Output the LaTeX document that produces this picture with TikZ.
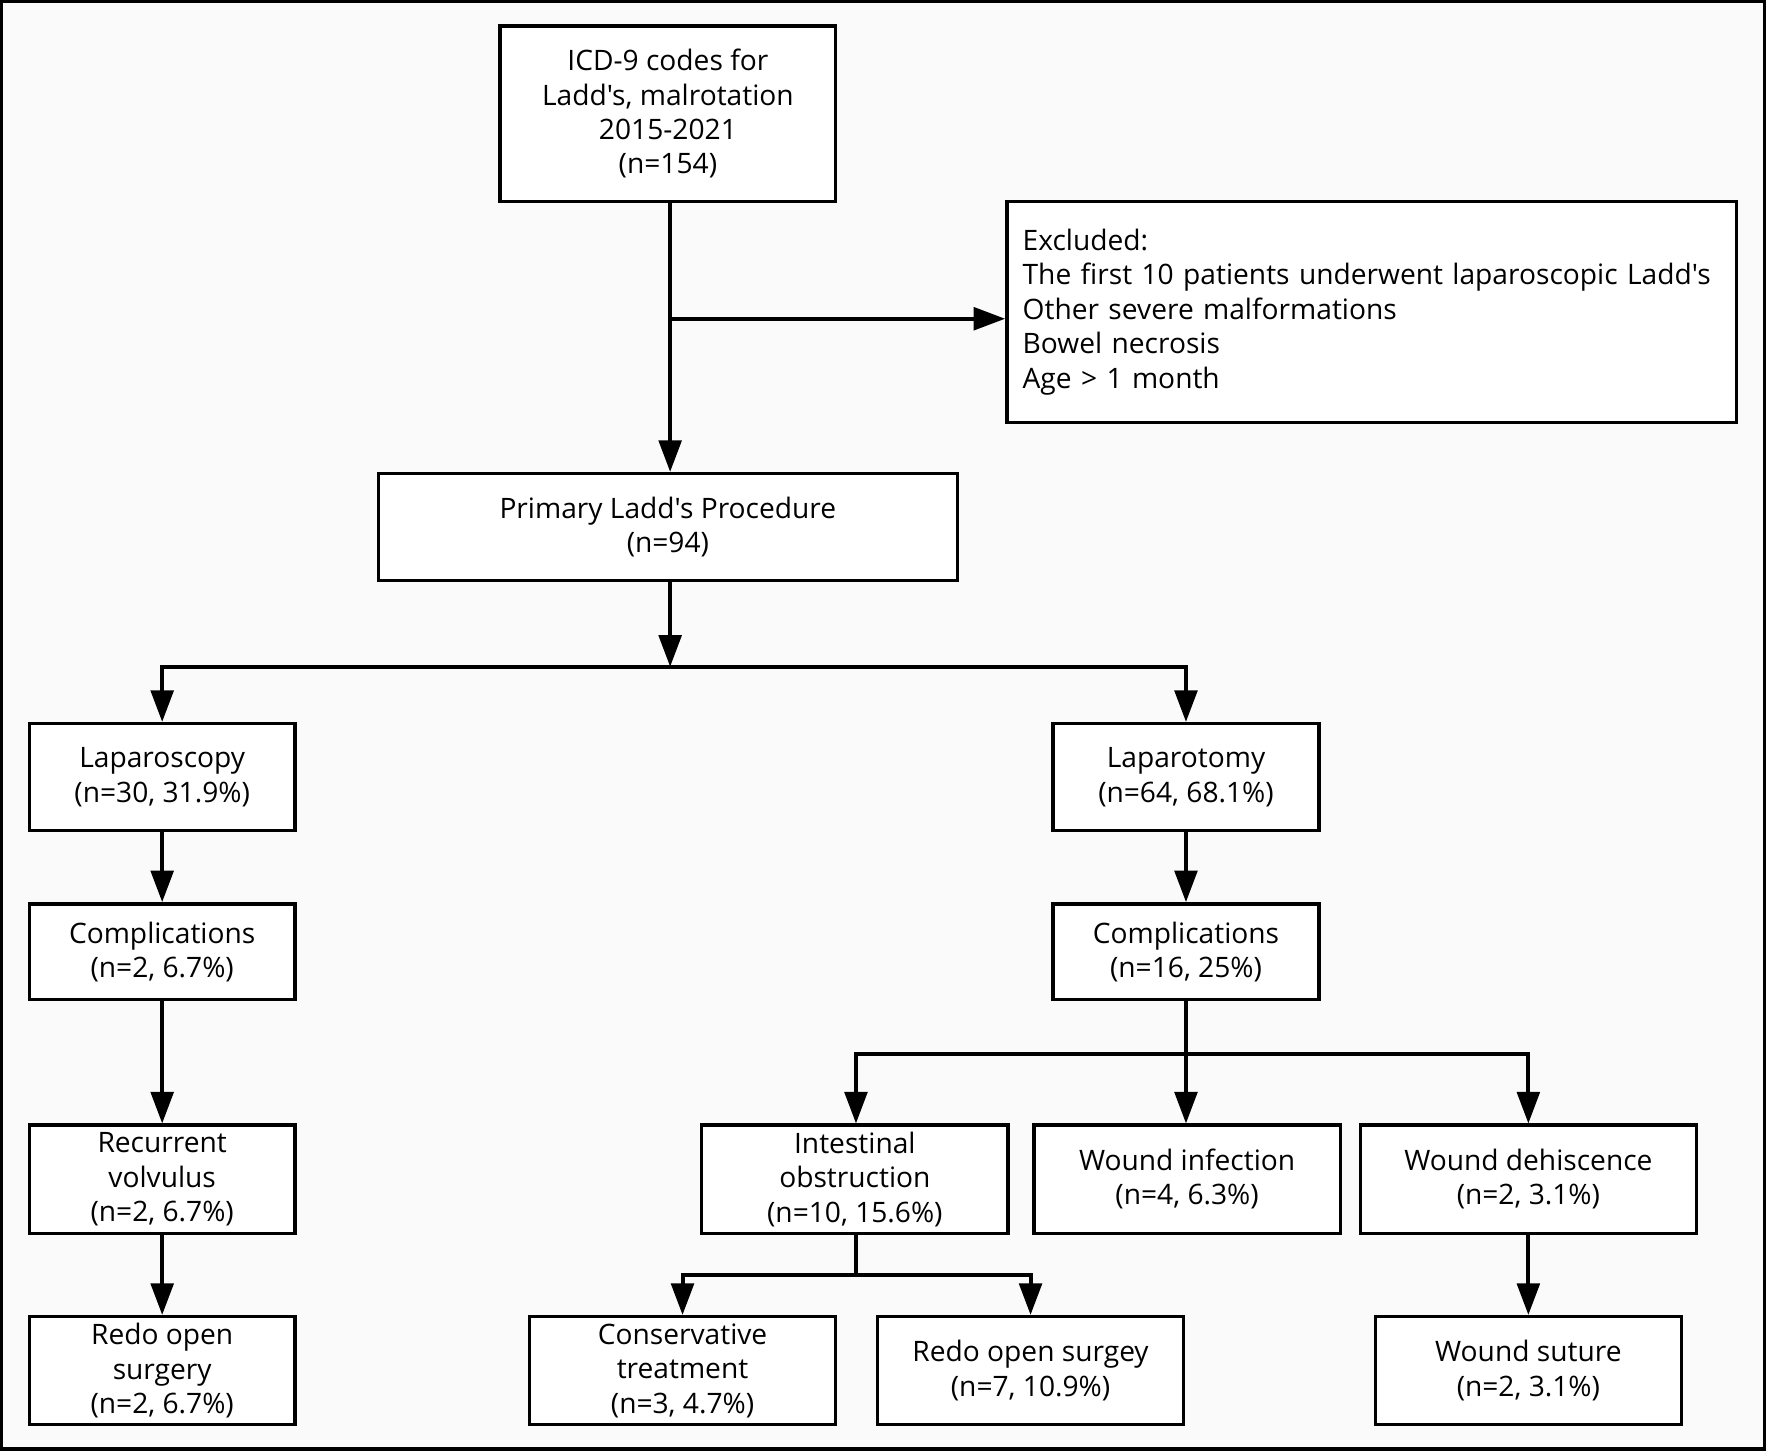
\documentclass[tikz,border=0pt]{standalone}
\usepackage{fontspec}
\setmainfont{Open Sans}[Ligatures=TeXOff]
\usetikzlibrary{arrows.meta}
\definecolor{bgc}{RGB}{250,250,250}
\begin{document}
\begin{tikzpicture}[x=1pt,y=-1pt,
  box/.style={draw, line width=3pt, fill=white, align=center, inner sep=2pt,
    font=\fontsize{25}{30.5}\selectfont},
  ln/.style={line width=3.5pt},
  arr/.style={ln, -{Triangle[length=28pt,width=20pt]}},
  arrb/.style={ln, {Triangle[length=28pt,width=20pt]}-{Triangle[length=28pt,width=20pt]}}]
\path[fill=bgc, draw=black, line width=3pt] (1.5,1.5) rectangle (1566.5,1286.5);
\useasboundingbox (0,0) rectangle (1568,1288);
% nodes
\node[box, minimum width=298pt, minimum height=156pt] (top) at (593,101)
  {ICD-9 codes for\\Ladd's, malrotation\\2015-2021\\(n=154)};
\node[box, minimum height=196pt, text width=620pt, inner xsep=14pt, align=left] (exc) at (1218,277)
  {Excluded:\\The first 10 patients underwent laparoscopic Ladd's\\Other severe malformations\\Bowel necrosis\\Age > 1 month};
\node[box, minimum width=514pt, minimum height=95pt] (prim) at (593,468)
  {Primary Ladd's Procedure\\(n=94)};
\node[box, minimum width=236pt, minimum height=95pt] (lap) at (144,690)
  {Laparoscopy\\(n=30, 31.9\%)};
\node[box, minimum width=236pt, minimum height=95pt] (lapt) at (1053,690)
  {Laparotomy\\(n=64, 68.1\%)};
\node[box, minimum width=236pt, minimum height=85pt] (compL) at (144,845)
  {Complications\\(n=2, 6.7\%)};
\node[box, minimum width=236pt, minimum height=85pt] (compR) at (1053,845)
  {Complications\\(n=16, 25\%)};
\node[box, minimum width=236pt, minimum height=96pt] (rec) at (144,1047)
  {Recurrent\\volvulus\\(n=2, 6.7\%)};
\node[box, minimum width=236pt, minimum height=96pt] (redoL) at (144,1217)
  {Redo open\\surgery\\(n=2, 6.7\%)};
\node[box, minimum width=272pt, minimum height=96pt] (int) at (759,1047)
  {Intestinal\\obstruction\\(n=10, 15.6\%)};
\node[box, minimum width=272pt, minimum height=96pt] (wi) at (1054,1047)
  {Wound infection\\(n=4, 6.3\%)};
\node[box, minimum width=298pt, minimum height=96pt] (wd) at (1357,1047)
  {Wound dehiscence\\(n=2, 3.1\%)};
\node[box, minimum width=272pt, minimum height=96pt] (cons) at (606,1217)
  {Conservative\\treatment\\(n=3, 4.7\%)};
\node[box, minimum width=272pt, minimum height=96pt] (redoR) at (915,1217)
  {Redo open surgey\\(n=7, 10.9\%)};
\node[box, minimum width=272pt, minimum height=96pt] (ws) at (1357,1217)
  {Wound suture\\(n=2, 3.1\%)};
% junctions
\coordinate (b1) at (595,283);
\coordinate (j1) at (595,592);
\coordinate (j2) at (1053,936);
\coordinate (j3) at (760,1132);
% connectors
\draw[arr] (top.south -| b1) -- (prim.north -| b1);
\draw[arr] (b1) -- (b1 -| exc.west);
\draw[arr] (prim.south -| j1) -- (j1);
\draw[arrb] (lap.north) |- (j1) -| (lapt.north);
\draw[arr] (lap) -- (compL);
\draw[arr] (compL) -- (rec);
\draw[arr] (rec) -- (redoL);
\draw[arr] (lapt) -- (compR);
\draw[arr] (compR.south) -- (compR.south |- wi.north);
\draw[arrb] (int.north -| j3) |- (j2) -| (wd.north);
\draw[ln] (int.south -| j3) -- (j3);
\draw[arrb] (cons.north) |- (j3) -| (redoR.north);
\draw[arr] (wd) -- (ws);
\end{tikzpicture}
\end{document}
